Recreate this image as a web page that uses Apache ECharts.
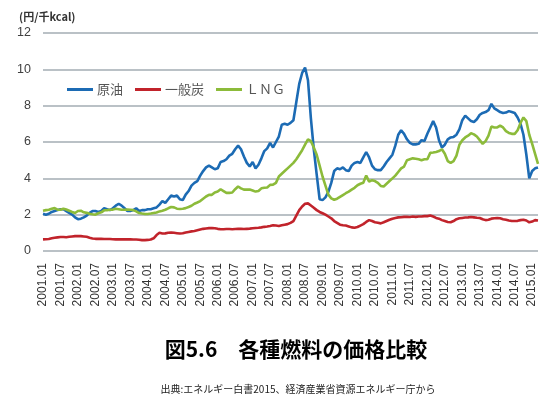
<!DOCTYPE html>
<html><head><meta charset="utf-8">
<script src="https://cdn.jsdelivr.net/npm/echarts@6/dist/echarts.min.js"></script>
<style>html,body{margin:0;padding:0;background:#fff}#c{width:550px;height:398px}</style>
</head><body><div id="c"></div>
<script>
// Monthly labels 2001.01 – 2015.03
const startYear = 2001, endYear = 2015, lastMonth = 3;
const categories = [];
for (let y = startYear; y <= endYear; y++) {
  for (let m = 1; m <= 12; m++) {
    if (y === endYear && m > lastMonth) break;
    categories.push(y + '.' + (m < 10 ? '0' + m : m));
  }
}
const seriesNames = ['原油', '一般炭', 'ＬＮＧ'];
// 原油 (crude oil), 円/千kcal
const crude = [
  2.05, 2.00, 2.05, 2.15, 2.20, 2.25, 2.30, 2.30, 2.20, 2.10, 2.00, 1.85,
  1.75, 1.78, 1.85, 1.95, 2.10, 2.20, 2.20, 2.15, 2.20, 2.35, 2.30, 2.25,
  2.35, 2.50, 2.60, 2.50, 2.35, 2.20, 2.20, 2.25, 2.35, 2.20, 2.25, 2.25,
  2.30, 2.30, 2.35, 2.40, 2.55, 2.75, 2.65, 2.85, 3.05, 3.00, 3.05, 2.85,
  2.80, 3.10, 3.30, 3.60, 3.75, 3.85, 4.15, 4.40, 4.60, 4.70, 4.60, 4.50,
  4.55, 4.90, 4.95, 5.05, 5.25, 5.35, 5.60, 5.80, 5.60, 5.20, 4.85, 4.65,
  4.90, 4.55, 4.75, 5.10, 5.50, 5.65, 5.95, 5.70, 6.00, 6.30, 6.95, 7.00,
  6.95, 7.05, 7.20, 8.20, 9.20, 9.80, 10.10, 9.40, 7.30, 5.60, 4.20, 2.85,
  2.80, 2.95, 3.25, 3.75, 4.40, 4.55, 4.50, 4.60, 4.45, 4.40, 4.70, 4.85,
  4.90, 4.85, 5.15, 5.45, 5.15, 4.70, 4.50, 4.45, 4.45, 4.65, 4.90, 5.10,
  5.30, 5.80, 6.40, 6.65, 6.45, 6.15, 5.95, 5.87, 5.87, 5.90, 6.10, 6.05,
  6.45, 6.80, 7.15, 6.80, 6.10, 5.70, 5.85, 6.15, 6.25, 6.28, 6.40, 6.70,
  7.20, 7.45, 7.30, 7.15, 7.10, 7.25, 7.50, 7.60, 7.65, 7.75, 8.10, 7.85,
  7.75, 7.65, 7.60, 7.62, 7.70, 7.65, 7.60, 7.35, 7.00, 6.40, 5.30, 4.00,
  4.40, 4.55, 4.60
];
// 一般炭 (steam coal)
const coal = [
  0.64, 0.65, 0.66, 0.70, 0.73, 0.75, 0.77, 0.77, 0.76, 0.78, 0.80, 0.82,
  0.82, 0.82, 0.80, 0.78, 0.73, 0.69, 0.67, 0.67, 0.67, 0.66, 0.66, 0.66,
  0.65, 0.64, 0.64, 0.64, 0.64, 0.64, 0.64, 0.63, 0.63, 0.62, 0.60, 0.60,
  0.61, 0.63, 0.70, 0.88, 1.00, 0.96, 0.97, 1.00, 1.02, 1.00, 0.98, 0.96,
  0.98, 1.02, 1.05, 1.08, 1.10, 1.14, 1.18, 1.22, 1.24, 1.26, 1.27, 1.25,
  1.22, 1.20, 1.20, 1.21, 1.21, 1.20, 1.21, 1.22, 1.22, 1.21, 1.22, 1.23,
  1.25, 1.27, 1.28, 1.30, 1.33, 1.35, 1.38, 1.42, 1.40, 1.38, 1.42, 1.45,
  1.48, 1.55, 1.65, 1.95, 2.25, 2.45, 2.60, 2.62, 2.50, 2.38, 2.25, 2.15,
  2.08, 2.00, 1.90, 1.80, 1.65, 1.55, 1.45, 1.42, 1.40, 1.35, 1.30, 1.28,
  1.32, 1.40, 1.48, 1.60, 1.70, 1.65, 1.58, 1.55, 1.52, 1.58, 1.65, 1.72,
  1.78, 1.82, 1.85, 1.86, 1.88, 1.88, 1.87, 1.90, 1.88, 1.90, 1.90, 1.92,
  1.92, 1.95, 1.90, 1.82, 1.78, 1.70, 1.65, 1.60, 1.58, 1.65, 1.75, 1.80,
  1.82, 1.84, 1.85, 1.87, 1.85, 1.83, 1.82, 1.75, 1.70, 1.72, 1.78, 1.80,
  1.82, 1.80, 1.75, 1.72, 1.68, 1.65, 1.65, 1.66, 1.70, 1.72, 1.68, 1.58,
  1.62, 1.70, 1.68
];
// ＬＮＧ
const lng = [
  2.22, 2.25, 2.27, 2.32, 2.36, 2.28, 2.27, 2.33, 2.28, 2.22, 2.15, 2.09,
  2.20, 2.22, 2.13, 2.10, 2.05, 2.02, 2.00, 2.08, 2.13, 2.24, 2.25, 2.27,
  2.28, 2.33, 2.30, 2.27, 2.27, 2.28, 2.27, 2.25, 2.18, 2.09, 2.06, 2.04,
  2.04, 2.06, 2.09, 2.12, 2.18, 2.22, 2.27, 2.35, 2.42, 2.40, 2.33, 2.31,
  2.33, 2.36, 2.42, 2.49, 2.60, 2.67, 2.75, 2.88, 3.00, 3.09, 3.09, 3.22,
  3.27, 3.40, 3.30, 3.20, 3.20, 3.22, 3.40, 3.55, 3.45, 3.38, 3.38, 3.38,
  3.33, 3.27, 3.30, 3.45, 3.48, 3.50, 3.64, 3.65, 3.75, 4.10, 4.25, 4.40,
  4.55, 4.70, 4.85, 5.05, 5.30, 5.55, 5.85, 6.15, 6.05, 5.70, 5.30, 4.70,
  4.10, 3.60, 3.10, 2.90, 2.82, 2.88, 2.98, 3.08, 3.18, 3.27, 3.38, 3.48,
  3.62, 3.70, 3.76, 4.15, 3.82, 3.90, 3.85, 3.75, 3.58, 3.55, 3.70, 3.85,
  4.00, 4.15, 4.35, 4.55, 4.65, 5.00, 5.05, 5.10, 5.08, 5.05, 5.00, 5.05,
  5.05, 5.40, 5.42, 5.45, 5.50, 5.60, 5.35, 4.95, 4.85, 4.95, 5.25, 5.85,
  6.10, 6.25, 6.35, 6.48, 6.42, 6.30, 6.10, 5.90, 6.05, 6.35, 6.85, 6.80,
  6.80, 6.90, 6.80, 6.60, 6.50, 6.45, 6.45, 6.65, 7.05, 7.35, 7.15, 6.40,
  5.90, 5.35, 4.80
];
const yTicks = { min: 0, max: 12, interval: 2 };
const unitLabel = '(円/千kcal)';
const titleText = '図5.6　各種燃料の価格比較';
const sourceText = '出典:エネルギー白書2015、経済産業省資源エネルギー庁から';

const colors = ['#1c6bb4', '#c1232b', '#8cbb3a'];
const chart = echarts.init(document.getElementById('c'), null, { renderer: 'canvas' });
const values = [crude, coal, lng];
chart.setOption({
  animation: false,
  color: colors,
  title: [
    { text: titleText, left: 291, top: 334, textAlign: 'center',
      textStyle: { fontFamily: 'Noto Sans CJK JP', fontSize: 21, fontWeight: 'bold', color: '#000' } },
    { text: sourceText, left: 293, top: 379, textAlign: 'center',
      textStyle: { fontFamily: 'Noto Sans CJK JP', fontSize: 10, fontWeight: 'normal', color: '#222' } }
  ],
  graphic: [
    { type: 'text', left: 19, top: 11,
      style: { text: unitLabel, font: 'bold 11px "Noto Sans CJK JP"', fill: '#333' } }
  ],
  legend: {
    left: 62, top: 78, itemWidth: 26, itemHeight: 3, itemGap: 12, icon: 'rect',
    data: seriesNames,
    textStyle: { fontFamily: 'Noto Sans CJK JP', fontSize: 13, color: '#555', padding: [0, 0, 0, -1] }
  },
  grid: { left: 43, right: 12, top: 33, bottom: 147, containLabel: false },
  xAxis: {
    type: 'category', data: categories, boundaryGap: false,
    axisLine: { show: false }, axisTick: { show: false },
    axisLabel: { interval: 5, rotate: 90, margin: 12, fontFamily: 'Liberation Sans', fontSize: 12, color: '#333' },
    splitLine: { show: false }
  },
  yAxis: {
    type: 'value', min: yTicks.min, max: yTicks.max, interval: yTicks.interval,
    axisLine: { show: false }, axisTick: { show: false },
    axisLabel: { margin: 12, fontFamily: 'Liberation Sans', fontSize: 12.5, color: '#404040' },
    splitLine: { lineStyle: { color: '#a3acb3', width: 1.6 } }
  },
  series: seriesNames.map((n, i) => ({
    name: n, type: 'line', data: values[i], symbol: 'none', smooth: false,
    lineStyle: { width: 2.6, color: colors[i] }, itemStyle: { color: colors[i] }
  }))
});
</script></body></html>
